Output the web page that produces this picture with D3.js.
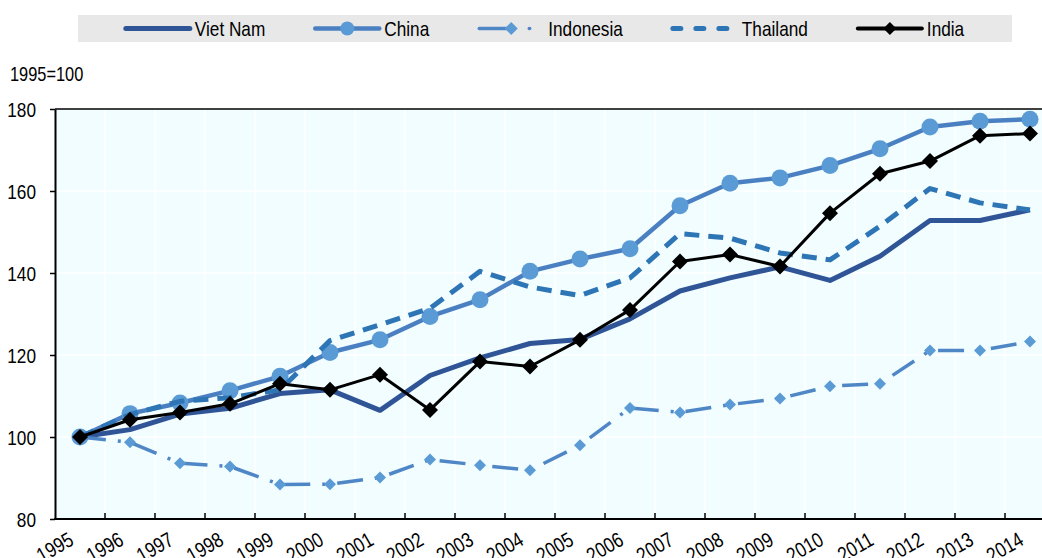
<!DOCTYPE html>
<html>
<head>
<meta charset="utf-8">
<script src="https://cdn.jsdelivr.net/npm/d3@7"></script>
<style>
  body { margin: 0; background: #fff; }
  text { font-family: "Liberation Sans", Arial, sans-serif; fill: #000; }
</style>
</head>
<body>
<svg id="chart" width="1042" height="558"></svg>
<script>
var years = ['1995','1996','1997','1998','1999','2000','2001','2002','2003','2004',
             '2005','2006','2007','2008','2009','2010','2011','2012','2013','2014'];

var vietNam   = [100, 101.8, 105.6, 107.0, 110.6, 111.5, 106.5, 115.0, 119.3, 122.8,
                 123.8, 128.8, 135.6, 138.8, 141.5, 138.2, 144.1, 152.8, 152.8, 155.4];
var china     = [100, 105.7, 108.3, 111.3, 114.8, 120.6, 123.7, 129.4, 133.5, 140.4,
                 143.4, 145.9, 156.4, 161.9, 163.2, 166.2, 170.3, 175.6, 177.0, 177.5];
var indonesia = [100, 98.7, 93.6, 92.8, 88.4, 88.5, 90.1, 94.5, 93.1, 91.9,
                 98.0, 107.1, 106.0, 107.9, 109.4, 112.4, 113.0, 121.1, 121.1, 123.3];
var thailand  = [100, 105.5, 108.7, 109.6, 111.5, 123.5, 127.4, 131.4, 140.4, 136.6,
                 134.5, 138.8, 149.6, 148.5, 144.9, 143.2, 151.4, 160.6, 157.1, 155.4];
var india     = [100, 104.2, 106.0, 108.1, 113.0, 111.5, 115.2, 106.6, 118.4, 117.2,
                 123.7, 131.0, 142.8, 144.5, 141.6, 154.6, 164.2, 167.3, 173.5, 174.0];

var yTicks = [80, 100, 120, 140, 160, 180];
var unitLabel = '1995=100';

// series styles, in legend order
var series = [
  { name: 'Viet Nam',  values: vietNam,   color: '#2F5597', width: 5,   dash: null,         marker: null },
  { name: 'China',     values: china,     color: '#4A80C2', width: 4.5, dash: null,         marker: 'circle',  mColor: '#5B9BD5', r: 8.5 },
  { name: 'Indonesia', values: indonesia, color: '#4F86C6', width: 3.5, dash: '26,12,3,12', marker: 'diamond', mColor: '#5B9BD5', r: 6 },
  { name: 'Thailand',  values: thailand,  color: '#2E75B6', width: 5,   dash: '15,9',       marker: null },
  { name: 'India',     values: india,     color: '#000000', width: 3,   dash: null,         marker: 'diamond', mColor: '#000000', r: 8 }
];

var NARROW = 0.82;   // no condensed font installed, squeeze Liberation Sans instead

var svg = d3.select('#chart');

var plotL = 55, plotR = 1055, plotT = 109, plotB = 519;

var x = d3.scaleBand().domain(years).range([plotL, plotR]);
var y = d3.scaleLinear().domain([80, 180]).range([plotB, plotT]);
var cx = function(i) { return x(years[i]) + x.bandwidth() / 2; };

function narrowText(g, px, py, str, size, anchor, rot) {
  return g.append('text')
    .attr('transform', 'translate(' + px + ',' + py + ')' + (rot ? ' rotate(' + rot + ')' : '') + ' scale(' + NARROW + ',1)')
    .attr('text-anchor', anchor || 'start')
    .attr('font-size', size)
    .text(str);
}

// plot background
svg.append('rect')
  .attr('x', plotL).attr('y', plotT)
  .attr('width', plotR - plotL).attr('height', plotB - plotT)
  .attr('fill', '#F1FDFF');

// grid
svg.append('g').selectAll('line')
  .data(yTicks.slice(1, -1))
  .enter().append('line')
  .attr('x1', plotL).attr('x2', plotR)
  .attr('y1', d => y(d)).attr('y2', d => y(d))
  .attr('stroke', '#fff').attr('stroke-width', 1.5);

svg.append('g').selectAll('line')
  .data(years.slice(1))
  .enter().append('line')
  .attr('x1', d => x(d)).attr('x2', d => x(d))
  .attr('y1', plotT).attr('y2', plotB)
  .attr('stroke', '#fff').attr('stroke-width', 1.5);

// top border
svg.append('line')
  .attr('x1', plotL).attr('x2', plotR)
  .attr('y1', plotT).attr('y2', plotT)
  .attr('stroke', '#000').attr('stroke-width', 1.5);

// y axis
var yAxis = svg.append('g')
  .attr('transform', 'translate(' + plotL + ',0)')
  .call(d3.axisLeft(y).tickValues(yTicks).tickSize(5).tickSizeOuter(0));
yAxis.select('.domain').attr('stroke-width', 2);
yAxis.selectAll('.tick line').attr('stroke-width', 1.5);
yAxis.selectAll('.tick text').remove();
yAxis.selectAll('.tick').each(function(d) {
  narrowText(d3.select(this), -19, 7.5, d, 21, 'end');
});

// x axis: ticks on category boundaries, pointing up
svg.append('line')
  .attr('x1', plotL - 1).attr('x2', plotR)
  .attr('y1', plotB).attr('y2', plotB)
  .attr('stroke', '#000').attr('stroke-width', 2);

svg.append('g').selectAll('line')
  .data(years.slice(1))
  .enter().append('line')
  .attr('x1', d => x(d)).attr('x2', d => x(d))
  .attr('y1', plotB).attr('y2', plotB - 6)
  .attr('stroke', '#000').attr('stroke-width', 1.5);

var xLabels = svg.append('g');
years.forEach(function(d, i) {
  narrowText(xLabels, cx(i) - 5, 544, d, 21, 'end', -30);
});

// unit label
narrowText(svg, 10, 81, unitLabel, 20, 'start');

// lines
var line = d3.line()
  .x((d, i) => cx(i))
  .y(d => y(d));

var diamond = function(r) { return 'M0,' + (-r) + 'L' + r + ',0L0,' + r + 'L' + (-r) + ',0Z'; };

function drawMarkers(g, s, points) {
  if (s.marker === 'circle') {
    g.selectAll('circle').data(points).enter().append('circle')
      .attr('cx', d => d[0]).attr('cy', d => d[1])
      .attr('r', s.r).attr('fill', s.mColor);
  } else if (s.marker === 'diamond') {
    g.selectAll('path.m').data(points).enter().append('path')
      .attr('class', 'm')
      .attr('d', diamond(s.r))
      .attr('transform', d => 'translate(' + d[0] + ',' + d[1] + ')')
      .attr('fill', s.mColor);
  }
}

series.forEach(function(s) {
  var g = svg.append('g');
  g.append('path')
    .datum(s.values)
    .attr('d', line)
    .attr('fill', 'none')
    .attr('stroke', s.color)
    .attr('stroke-width', s.width)
    .attr('stroke-linejoin', 'round')
    .attr('stroke-dasharray', s.dash);
  drawMarkers(g, s, s.values.map((v, i) => [cx(i), y(v)]));
});

// legend
svg.append('rect')
  .attr('x', 78).attr('y', 15)
  .attr('width', 934).attr('height', 27)
  .attr('fill', '#E8E8E8');

var legend = svg.append('g');
var sample = 64, gap = 50, pos = 0, ly = 28.5;
series.forEach(function(s) {
  var g = legend.append('g');
  g.append('path')
    .attr('d', 'M0,' + ly + 'H' + sample)
    .attr('fill', 'none')
    .attr('stroke', s.color)
    .attr('stroke-width', s.name === 'India' ? 4 : s.width)
    .attr('stroke-linecap', 'round')
    .attr('stroke-dasharray', s.name === 'Thailand' ? '8,15' : (s.name === 'Indonesia' ? '30,20,0.5,40' : null));
  drawMarkers(g, Object.assign({}, s, { r: s.marker === 'circle' ? 7 : 6.5 }),
              [[s.name === 'Indonesia' ? 32 : sample / 2, ly]]);
  var t = narrowText(g, sample + 5, ly + 7.5, s.name, 21, 'start');
  var w = sample + 5 + t.node().getComputedTextLength() * NARROW;
  g.attr('transform', 'translate(' + pos + ',0)');
  pos += w + gap;
});
var total = pos - gap;
legend.attr('transform', 'translate(' + (545 - total / 2) + ',0)');
</script>
</body>
</html>
